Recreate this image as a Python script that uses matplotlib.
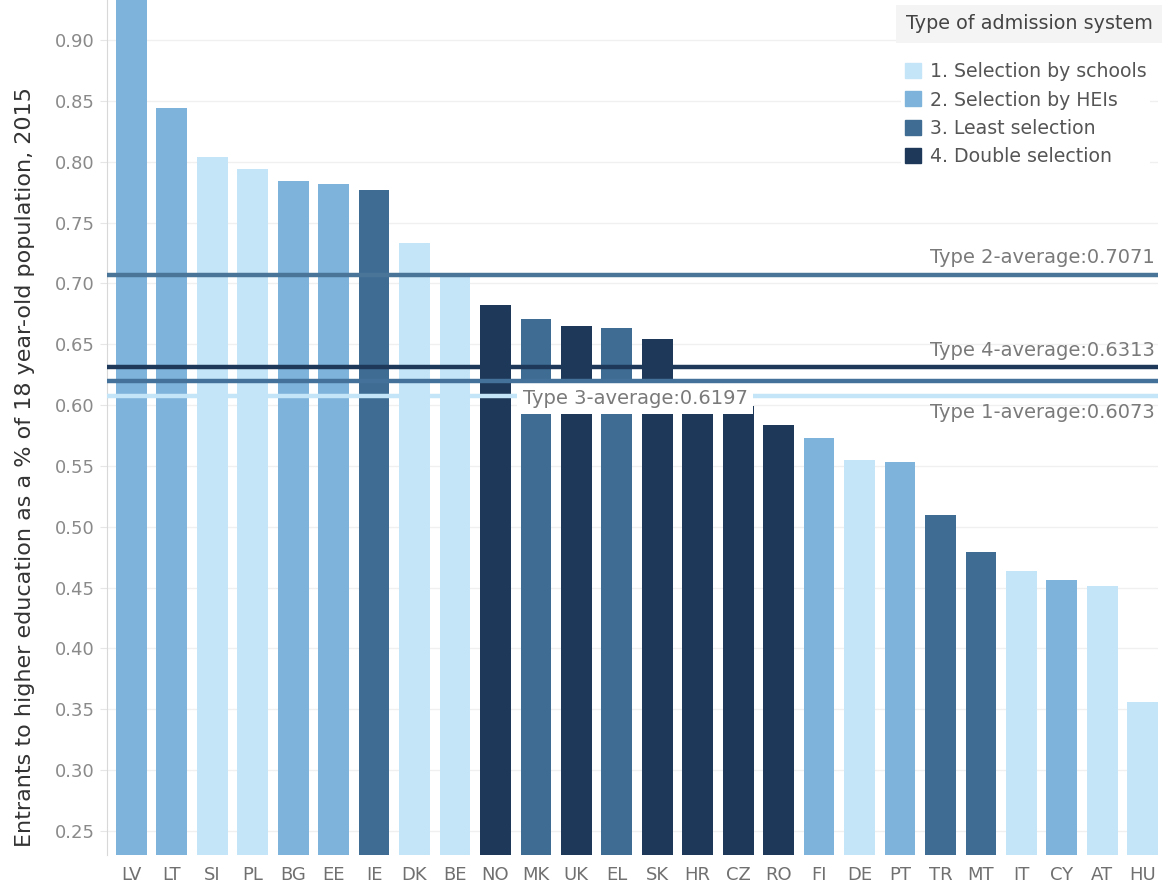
import matplotlib
matplotlib.use("Agg")
import matplotlib.pyplot as plt
from matplotlib.patches import Patch

# data
countries = ["LV", "LT", "SI", "PL", "BG", "EE", "IE", "DK", "BE", "NO", "MK", "UK", "EL",
             "SK", "HR", "CZ", "RO", "FI", "DE", "PT", "TR", "MT", "IT", "CY", "AT", "HU"]
values = [0.958, 0.844, 0.804, 0.794, 0.784, 0.782, 0.777, 0.733, 0.707, 0.682, 0.671, 0.665, 0.663,
          0.654, 0.604, 0.599, 0.584, 0.573, 0.555, 0.553, 0.510, 0.479, 0.464, 0.456, 0.451, 0.356]
types = [2, 2, 1, 1, 2, 2, 3, 1, 1, 4, 3, 4, 3,
         4, 4, 4, 4, 2, 1, 2, 3, 3, 1, 2, 1, 1]

type_names = ["1. Selection by schools", "2. Selection by HEIs", "3. Least selection", "4. Double selection"]
type_avgs = {1: 0.6073, 2: 0.7071, 3: 0.6197, 4: 0.6313}

bar_colors = {1: "#c4e5f8", 2: "#7eb3db", 3: "#3e6c93", 4: "#1d3858"}
line_colors = {1: "#c4e5f8", 2: "#4a7598", 3: "#44719a", 4: "#1d3858"}

plt.rcParams["font.family"] = ["DejaVu Sans"]

fig = plt.figure(figsize=(11.7, 8.88), dpi=100)
ax = fig.add_axes([0.0915, 0.037, 0.898, 0.963])

x = list(range(len(countries)))
ax.bar(x, values, width=0.76, color=[bar_colors[t] for t in types], zorder=2)

ax.set_xlim(-0.6, 25.37)
ax.set_ylim(0.23, 0.933)
ax.set_yticks([0.25, 0.30, 0.35, 0.40, 0.45, 0.50, 0.55, 0.60, 0.65, 0.70, 0.75, 0.80, 0.85, 0.90])
ax.set_yticklabels([f"{v:.2f}" for v in ax.get_yticks()], color="#8a8a8a", fontsize=13)
ax.set_xticks(x)
ax.set_xticklabels(countries, color="#707070", fontsize=13)
ax.tick_params(axis="y", length=5, color="#e6e6e6", pad=4)
ax.tick_params(axis="x", length=0, pad=8)
ax.grid(axis="y", color="#f0f0f0", lw=1, zorder=0)
for s in ["top", "right", "bottom"]:
    ax.spines[s].set_visible(False)
ax.spines["left"].set_color("#d8d8d8")

# average lines
ax.axhline(type_avgs[1], color=line_colors[1], lw=3.2, zorder=3)
ax.axhline(type_avgs[3], color=line_colors[3], lw=3.2, zorder=5)
ax.axhline(type_avgs[4], color=line_colors[4], lw=3.2, zorder=5)
ax.axhline(type_avgs[2], color=line_colors[2], lw=3.2, zorder=5)

lab_kw = dict(color="#7a7a7a", fontsize=14, ha="right")
ax.text(25.3, type_avgs[2] + 0.006, f"Type 2-average:{type_avgs[2]:.4f}", va="bottom", **lab_kw)
ax.text(25.3, type_avgs[4] + 0.006, f"Type 4-average:{type_avgs[4]:.4f}", va="bottom", **lab_kw)
ax.text(25.3, type_avgs[1] - 0.006, f"Type 1-average:{type_avgs[1]:.4f}", va="top", **lab_kw)
ax.text(12.45, 0.6055, f"Type 3-average:{type_avgs[3]:.4f}", va="center", ha="center",
        color="#7a7a7a", fontsize=14, zorder=4,
        bbox=dict(boxstyle="square,pad=0.3", fc="white", ec="none"))

# y label
fig.text(0.021, 0.474, "Entrants to higher education as a % of 18 year-old population, 2015",
         rotation=90, va="center", ha="center", fontsize=16, color="#333333")

# legend
fig.text(0.774, 0.973, "Type of admission system", fontsize=13.8, color="#444444", va="center",
         bbox=dict(boxstyle="square,pad=0.5", fc="#f4f4f4", ec="none"))
handles = [Patch(color=bar_colors[i + 1]) for i in range(4)]
leg = fig.legend(handles, type_names, loc="upper left", bbox_to_anchor=(0.762, 0.945),
                 frameon=True, facecolor="white", edgecolor="none", framealpha=1,
                 fontsize=13.6, handlelength=0.84, handleheight=0.84, handletextpad=0.5,
                 labelspacing=0.5, borderpad=0.2)
for t in leg.get_texts():
    t.set_color("#555555")
leg.set_zorder(10)

fig.savefig("out.png", dpi=100)
